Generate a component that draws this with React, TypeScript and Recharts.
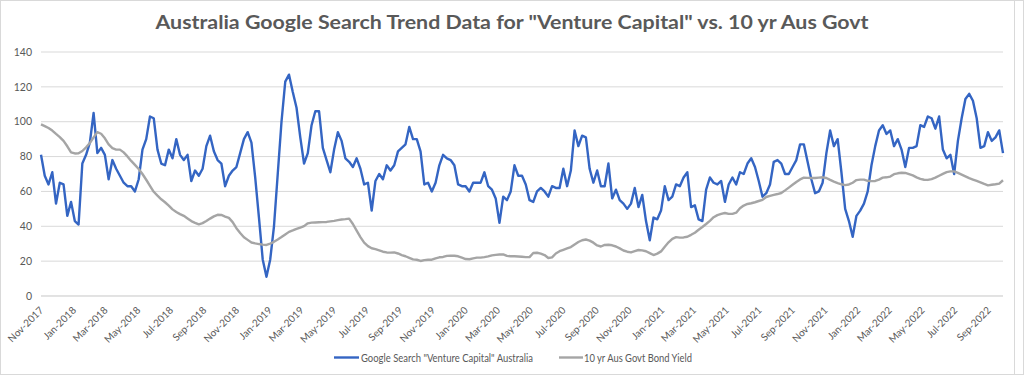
import React from 'react';
import { LineChart, Line, XAxis, YAxis, CartesianGrid } from 'recharts';

// weekly series, first week starting 5 Nov 2017
const FIRST_WEEK = Date.UTC(2017, 10, 5);
const DAY = 86400000;

const searchValues = [
  81, 69, 64, 71, 53, 65, 64, 46, 54, 43,
  41, 76, 81, 88, 105, 82, 85, 81, 67, 78,
  73, 69, 65, 63, 63, 60, 67, 84, 90, 103,
  102, 84, 76, 75, 84, 79, 90, 81, 78, 81,
  66, 72, 69, 73, 86, 92, 83, 78, 76, 63,
  69, 72, 74, 82, 90, 94, 88, 68, 45, 21,
  11, 21, 40, 70, 100, 123, 127, 117, 108, 91,
  76, 82, 98, 106, 106, 85, 78, 71, 84, 94,
  89, 79, 77, 74, 79, 73, 64, 65, 49, 66,
  70, 67, 75, 72, 75, 83, 85, 87, 97, 90,
  90, 83, 64, 65, 60, 65, 75, 81, 79, 78,
  75, 64, 63, 63, 60, 65, 65, 65, 71, 63,
  61, 56, 42, 57, 55, 60, 75, 69, 69, 64,
  55, 54, 60, 62, 60, 57, 63, 62, 62, 73,
  63, 72, 95, 86, 92, 91, 73, 65, 72, 63,
  63, 76, 56, 61, 55, 53, 50, 53, 62, 51,
  58, 43, 32, 45, 44, 49, 63, 55, 57, 64,
  63, 68, 71, 51, 52, 44, 43, 61, 68, 65,
  64, 66, 54, 64, 68, 64, 71, 70, 76, 79,
  74, 66, 57, 59, 64, 77, 78, 76, 70, 70,
  74, 78, 87, 87, 77, 67, 59, 60, 65, 82,
  95, 86, 90, 71, 50, 43, 34, 46, 49, 53,
  60, 75, 86, 95, 98, 93, 95, 86, 90, 84,
  74, 85, 85, 86, 98, 97, 103, 102, 96, 103,
  84, 79, 81, 70, 89, 102, 113, 116, 112, 102,
  85, 86, 94, 89, 91, 95, 82,
];

const bondValues = [
  98.5, 97.5, 96.4, 94.9, 93, 91.2, 89, 85.9, 82.4, 81.8,
  81.9, 83.2, 85.3, 87.8, 91, 94, 93.1, 90.5, 87, 84.8,
  84, 84, 82.4, 80.1, 77.5, 75.2, 72.9, 70, 66.7, 63.2,
  59.8, 57.6, 55.5, 53.8, 51.9, 49.7, 48.2, 47, 46, 44.5,
  43, 42, 41.1, 41.8, 43, 44.4, 45.7, 46.6, 46.5, 45.6,
  44.8, 42.4, 38.9, 36.2, 33.7, 32.2, 30.7, 30.2, 29.8, 29.5,
  29.3, 30.1, 31.1, 32.4, 33.8, 35.3, 36.8, 37.6, 38.5, 39.3,
  40.1, 41.7, 42.1, 42.2, 42.3, 42.4, 42.5, 42.8, 43.1, 43.5,
  43.9, 44.1, 44.4, 41.3, 37.5, 33.8, 30.6, 28.6, 27.4, 26.9,
  26.2, 25.4, 25, 24.9, 25, 24.4, 23.5, 22.8, 21.9, 21,
  20.8, 20.1, 20.6, 20.8, 20.8, 21.6, 22.2, 22.4, 23, 23.1,
  23.1, 22.8, 22, 21.2, 21.1, 21.6, 22, 22, 22.3, 22.7,
  23.3, 23.6, 23.8, 23.9, 23, 22.8, 22.8, 22.7, 22.5, 22.3,
  22.3, 24.7, 24.8, 24.3, 23.5, 21.8, 22.2, 24.4, 25.7, 26.5,
  27.3, 28.1, 29.6, 31, 32, 32.4, 31.8, 30.6, 29, 28.4,
  29.3, 29.4, 29.1, 28.4, 27.3, 26.1, 25.4, 25, 25.7, 26.4,
  26.2, 25.7, 24.6, 23.5, 24.3, 25.6, 28.3, 30.8, 32.8, 33.8,
  33.5, 33.6, 34, 35.1, 36.3, 38, 39.6, 41.3, 43.1, 45.2,
  46.4, 47.1, 47.6, 47.1, 47.1, 47.8, 50.3, 51.9, 52.8, 53.2,
  53.8, 54.5, 55.2, 56.8, 57.4, 58, 58.5, 59.1, 60.6, 62.2,
  63.8, 65.4, 66.9, 67.9, 67.8, 67.7, 67.7, 67.9, 68.1, 67.7,
  66.6, 65.6, 64.8, 64.1, 63.6, 64, 65, 66.5, 66.8, 66.8,
  66.1, 65.9, 66, 66.8, 67.9, 68.1, 68.5, 69.9, 70.4, 70.7,
  70.6, 69.9, 69.2, 68.1, 67.2, 66.7, 66.6, 67.1, 67.9, 69,
  70.1, 71.1, 71.5, 71.5, 70.6, 69.6, 68.6, 67.6, 66.8, 66,
  65.2, 64.3, 63.5, 63.8, 64.1, 64.5, 66.4,
];

const monthLabels = [
  'Nov-2017', 'Jan-2018', 'Mar-2018', 'May-2018', 'Jul-2018', 'Sep-2018',
  'Nov-2018', 'Jan-2019', 'Mar-2019', 'May-2019', 'Jul-2019', 'Sep-2019',
  'Nov-2019', 'Jan-2020', 'Mar-2020', 'May-2020', 'Jul-2020', 'Sep-2020',
  'Nov-2020', 'Jan-2021', 'Mar-2021', 'May-2021', 'Jul-2021', 'Sep-2021',
  'Nov-2021', 'Jan-2022', 'Mar-2022', 'May-2022', 'Jul-2022', 'Sep-2022',
];

const yTicks = [0, 20, 40, 60, 80, 100, 120, 140];

const SEARCH_NAME = 'Google Search "Venture Capital" Australia';
const BOND_NAME = '10 yr Aus Govt Bond Yield';
const BLUE = '#3465c3';
const GREY = '#a5a5a5';
const TEXT = '#595959';
const FONT = 'Lato, "Open Sans", sans-serif';

const MONTHS = ['Jan', 'Feb', 'Mar', 'Apr', 'May', 'Jun', 'Jul', 'Aug', 'Sep', 'Oct', 'Nov', 'Dec'];
const tickTimes = monthLabels.map(l => {
  const [m, y] = l.split('-');
  return Date.UTC(Number(y), MONTHS.indexOf(m), 5);
});

const data = searchValues.map((v, i) => ({
  t: FIRST_WEEK + i * 7 * DAY,
  search: v,
  bond: bondValues[i],
}));

const XTick = (props: any) => {
  const { x, y, payload } = props;
  const label = monthLabels[tickTimes.indexOf(payload.value)];
  return (
    <g transform={`translate(${x + 3},${y + 7})`}>
      <text textAnchor="end" transform="rotate(-45)" fill={TEXT} fontSize={10} fontFamily={FONT}>
        {label}
      </text>
    </g>
  );
};

export default function App() {
  return (
    <div style={{ position: 'absolute', left: 0, top: 0, width: 1024, height: 375, background: '#fff', overflow: 'hidden' }}>
      <svg width={1024} height={40} style={{ position: 'absolute', left: 0, top: 0 }}>
        <text x={512} y={29} textAnchor="middle" fill={TEXT} fontSize={19} fontWeight={700} fontFamily={FONT}
          textLength={713} lengthAdjust="spacingAndGlyphs">
          Australia Google Search Trend Data for "Venture Capital" vs. 10 yr Aus Govt
        </text>
      </svg>

      <div style={{ position: 'absolute', left: 0, top: 0 }}>
        <LineChart width={1024} height={375} data={data} margin={{ top: 52, right: 21, bottom: 19, left: 0 }}>
          <CartesianGrid horizontal vertical={false} stroke="#d9d9d9" strokeWidth={1} />
          <XAxis
            dataKey="t"
            type="number"
            domain={[FIRST_WEEK, FIRST_WEEK + (searchValues.length - 1) * 7 * DAY]}
            ticks={tickTimes}
            interval={0}
            height={60}
            axisLine={{ stroke: '#d9d9d9' }}
            tickLine={false}
            tick={<XTick />}
          />
          <YAxis
            domain={[0, 140]}
            ticks={yTicks}
            width={41}
            axisLine={false}
            tickLine={false}
            tickSize={0}
            tickMargin={9}
            tick={{ fill: TEXT, fontSize: 10.5, fontFamily: FONT }}
          />
          <Line type="linear" dataKey="search" name={SEARCH_NAME} stroke={BLUE} strokeWidth={2.4}
            dot={false} isAnimationActive={false} strokeLinejoin="round" />
          <Line type="linear" dataKey="bond" name={BOND_NAME} stroke={GREY} strokeWidth={2.4}
            dot={false} isAnimationActive={false} strokeLinejoin="round" />
        </LineChart>
      </div>

      <svg width={1024} height={30} style={{ position: 'absolute', left: 0, top: 343 }}>
        <line x1={334} x2={359} y1={14.5} y2={14.5} stroke={BLUE} strokeWidth={2.4} />
        <text x={361} y={18.5} fill={TEXT} fontSize={11} fontFamily={FONT} textLength={172} lengthAdjust="spacingAndGlyphs">
          {SEARCH_NAME}
        </text>
        <line x1={559} x2={583} y1={14.5} y2={14.5} stroke={GREY} strokeWidth={2.4} />
        <text x={584} y={18.5} fill={TEXT} fontSize={11} fontFamily={FONT} textLength={108} lengthAdjust="spacingAndGlyphs">
          {BOND_NAME}
        </text>
      </svg>

      <div style={{ position: 'absolute', left: 1014, top: 0, width: 1, height: 375, background: '#d9d9d9' }} />
      <div style={{ position: 'absolute', left: 0, top: 0, width: 1024, height: 375, boxSizing: 'border-box', border: '1px solid #d9d9d9', pointerEvents: 'none' }} />
    </div>
  );
}
